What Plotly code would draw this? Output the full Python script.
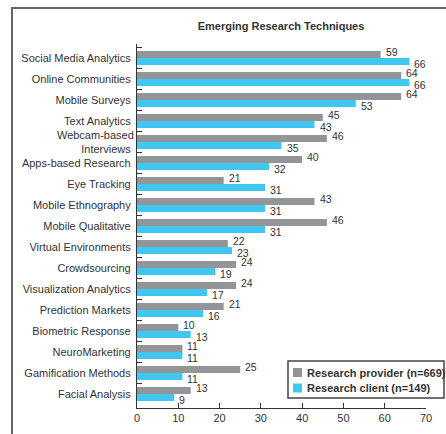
import plotly.graph_objects as go

categories = ["Social Media Analytics", "Online Communities", "Mobile Surveys", "Text Analytics",
              "Webcam-based<br>Interviews", "Apps-based Research", "Eye Tracking", "Mobile Ethnography",
              "Mobile Qualitative", "Virtual Environments", "Crowdsourcing", "Visualization Analytics",
              "Prediction Markets", "Biometric Response", "NeuroMarketing", "Gamification Methods",
              "Facial Analysis"]
provider = [59, 64, 64, 45, 46, 40, 21, 43, 46, 22, 24, 24, 21, 10, 11, 25, 13]
client = [66, 66, 53, 43, 35, 32, 31, 31, 31, 23, 19, 17, 16, 13, 11, 11, 9]
x_ticks = [0, 10, 20, 30, 40, 50, 60, 70]
series_names = ["Research provider (n=669)", "Research client (n=149)"]
series_colors = ["#939598", "#3FC6F1"]

FONT = "Liberation Sans, Arial, Helvetica, sans-serif"
TXT = "#333333"

L, R, T, B, W, H = 137, 20, 44, 26, 446, 434
PW, PH = W - L - R, H - T - B


def px(x):
    return (x - L) / PW


def py(y):
    return (H - B - y) / PH


fig = go.Figure()
for vals, name, col in zip([provider, client], series_names, series_colors):
    fig.add_trace(go.Bar(y=categories, x=vals, orientation="h", name=name,
                         marker=dict(color=col, line=dict(width=0)), cliponaxis=False))

# value labels: provider label sits a little above its bar, client label a little below
for vals, dy in zip([provider, client], [6, -6]):
    for cat, v in zip(categories, vals):
        fig.add_annotation(x=v, y=cat, xref="x", yref="y", text=str(v), showarrow=False,
                           xanchor="left", yanchor="middle", xshift=3, yshift=dy,
                           font=dict(size=10.5, color=TXT, family=FONT))

fig.update_layout(
    width=W, height=H,
    margin=dict(l=L, r=R, t=T, b=B, autoexpand=False),
    paper_bgcolor="white", plot_bgcolor="white",
    barmode="group", bargap=0.345, bargroupgap=0,
    font=dict(family=FONT, size=11, color=TXT),
    title=dict(text="<b>Emerging Research Techniques</b>", x=281 / W, xanchor="center",
               y=1 - 26 / H, yanchor="middle", font=dict(size=11, color=TXT, family=FONT)),
    xaxis=dict(range=[0, 70], tickvals=x_ticks, ticks="inside", ticklen=5, tickcolor="#333",
               showline=True, linecolor="#333", linewidth=1, showgrid=False, zeroline=False,
               tickfont=dict(size=11, color=TXT), fixedrange=True, automargin=False),
    yaxis=dict(autorange="reversed", ticks="inside", tickson="boundaries", ticklen=5, tickcolor="#333",
               showline=True, linecolor="#333", linewidth=1, showgrid=False, automargin=False,
               tickfont=dict(size=11, color=TXT), ticksuffix=" "),
    showlegend=False,
)

# outer frame (only left and top edges fall inside the canvas)
fig.add_shape(type="rect", xref="paper", yref="paper", x0=px(12), x1=px(470), y0=py(450), y1=py(8),
              line=dict(color="#666666", width=2), fillcolor="rgba(0,0,0,0)", layer="above")

# legend box
fig.add_shape(type="rect", xref="paper", yref="paper", x0=px(288), x1=px(444), y0=py(398), y1=py(361),
              line=dict(color="#444", width=1.5), fillcolor="white", layer="above")
for i, (name, col) in enumerate(zip(series_names, series_colors)):
    yc = 372.5 + 15.5 * i
    fig.add_shape(type="rect", xref="paper", yref="paper", x0=px(293), x1=px(302),
                  y0=py(yc + 4.5), y1=py(yc - 4.5), line=dict(width=0), fillcolor=col, layer="above")
    fig.add_annotation(xref="paper", yref="paper", x=px(305), y=py(yc), xanchor="left", yanchor="middle",
                       text=f"<b>{name}</b>", showarrow=False,
                       font=dict(size=11, color=TXT, family=FONT))

fig.write_html("out.html", config={"displayModeBar": False},
               post_script="document.body.style.margin='0px';")
